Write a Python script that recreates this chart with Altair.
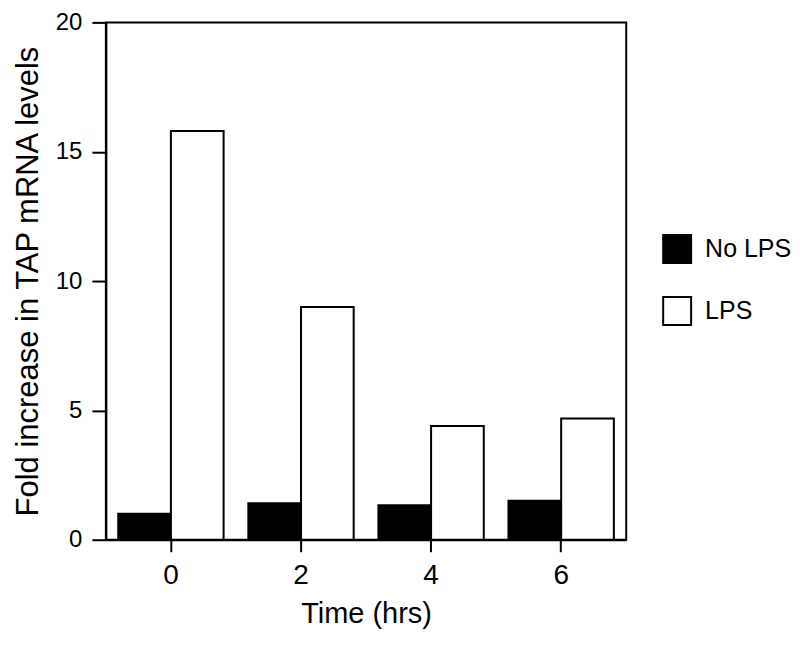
import altair as alt
import pandas as pd

times = ["0", "2", "4", "6"]
groups = ["No LPS", "LPS"]
no_lps = [1.0, 1.41, 1.33, 1.51]
lps = [15.8, 9.0, 4.4, 4.69]

rows = []
for t, a, b in zip(times, no_lps, lps):
    rows.append({"time": t, "group": "No LPS", "value": a})
    rows.append({"time": t, "group": "LPS", "value": b})
df = pd.DataFrame(rows)

FONT = "Liberation Sans"

chart = alt.Chart(df).mark_bar(stroke="black", strokeWidth=2).encode(
    x=alt.X(
        "time:N",
        sort=times,
        title="Time (hrs)",
        scale=alt.Scale(paddingInner=0.19, paddingOuter=0.095),
        axis=alt.Axis(
            labelAngle=0,
            labelFontSize=28,
            labelPadding=10,
            tickSize=12,
            tickWidth=2,
            tickColor="black",
            domainColor="black",
            domainWidth=2,
            titleFontSize=29,
            titlePadding=10,
            titleFontWeight="normal",
        ),
    ),
    xOffset=alt.XOffset("group:N", sort=groups),
    y=alt.Y(
        "value:Q",
        title="Fold increase in TAP mRNA levels",
        scale=alt.Scale(domain=[0, 20], nice=False),
        axis=alt.Axis(
            values=[0, 5, 10, 15, 20],
            grid=False,
            labelFontSize=24,
            labelPadding=10,
            tickSize=14,
            tickWidth=2,
            tickColor="black",
            domainColor="black",
            domainWidth=2,
            titleFontSize=31,
            titlePadding=11,
            titleFontWeight="normal",
        ),
    ),
    fill=alt.Fill(
        "group:N",
        sort=groups,
        scale=alt.Scale(domain=groups, range=["black", "white"]),
        legend=alt.Legend(
            title=None,
            orient="none",
            legendX=557,
            legendY=212,
            symbolType="square",
            symbolSize=784,
            symbolStrokeColor="black",
            symbolStrokeWidth=2,
            symbolOpacity=1,
            labelFontSize=25,
            labelOffset=13,
            rowPadding=26,
            padding=0,
        ),
    ),
).properties(
    width=521,
    height=518,
    padding={"left": 4, "top": 2, "right": 0, "bottom": 0},
).configure(
    font=FONT
).configure_view(
    stroke="black", strokeWidth=2
).configure_axis(
    labelColor="black", titleColor="black", labelFont=FONT, titleFont=FONT
).configure_legend(
    labelColor="black", labelFont=FONT
)

chart.save("out.html", embed_options={"renderer": "svg", "actions": False})
